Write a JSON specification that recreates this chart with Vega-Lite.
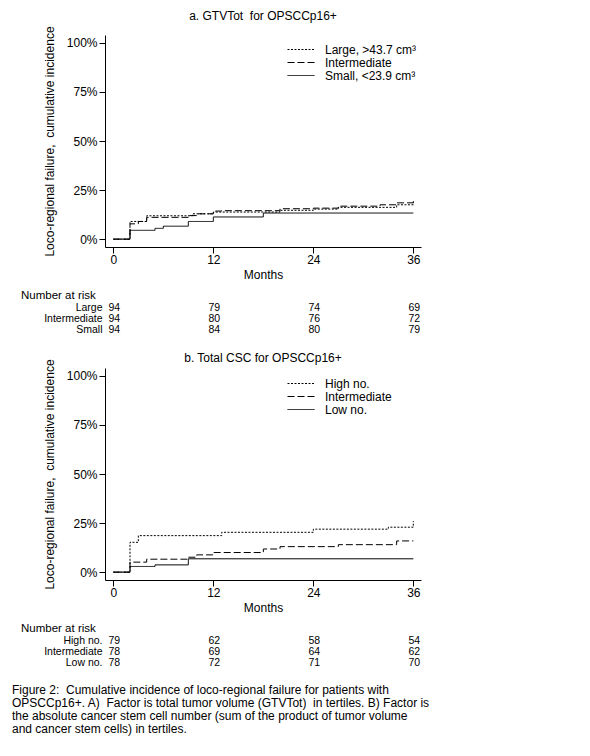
{
  "$schema": "https://vega.github.io/schema/vega-lite/v6.json",
  "background": "white",
  "padding": {"left": 12, "top": 9, "right": 5, "bottom": 5},
  "config": {
    "font": "Liberation Sans",
    "view": {"stroke": null},
    "axis": {"domainColor": "black", "tickColor": "black", "labelColor": "black", "titleColor": "black", "grid": false, "labelFontSize": 12, "titleFontSize": 12, "titleFontWeight": "normal", "tickSize": 6, "domainWidth": 1, "tickWidth": 1},
    "title": {"fontSize": 12, "fontWeight": "normal", "color": "black"},
    "legend": {"labelFontSize": 12, "labelColor": "black", "padding": 0, "rowPadding": 0, "symbolSize": 144, "symbolType": "M -1 0 L 3.5 0", "symbolStrokeWidth": 1, "symbolStrokeColor": "black", "labelOffset": 25, "title": null}
  },
  "datasets": {
    "curves_a": [
      {"group": "Large, >43.7 cm³", "month": 0, "cif": 0},
      {"group": "Large, >43.7 cm³", "month": 2, "cif": 9.0},
      {"group": "Large, >43.7 cm³", "month": 4, "cif": 11.9},
      {"group": "Large, >43.7 cm³", "month": 9.5, "cif": 12.9},
      {"group": "Large, >43.7 cm³", "month": 12, "cif": 13.8},
      {"group": "Large, >43.7 cm³", "month": 20, "cif": 14.7},
      {"group": "Large, >43.7 cm³", "month": 24, "cif": 15.3},
      {"group": "Large, >43.7 cm³", "month": 27, "cif": 16.2},
      {"group": "Large, >43.7 cm³", "month": 34, "cif": 17.5},
      {"group": "Large, >43.7 cm³", "month": 36, "cif": 19.9},
      {"group": "Intermediate", "month": 0, "cif": 0},
      {"group": "Intermediate", "month": 2, "cif": 7.8},
      {"group": "Intermediate", "month": 3, "cif": 9.0},
      {"group": "Intermediate", "month": 4, "cif": 11.1},
      {"group": "Intermediate", "month": 9, "cif": 12.0},
      {"group": "Intermediate", "month": 10, "cif": 12.9},
      {"group": "Intermediate", "month": 12, "cif": 14.3},
      {"group": "Intermediate", "month": 13, "cif": 14.5},
      {"group": "Intermediate", "month": 20, "cif": 15.5},
      {"group": "Intermediate", "month": 24, "cif": 15.8},
      {"group": "Intermediate", "month": 27, "cif": 16.8},
      {"group": "Intermediate", "month": 32, "cif": 17.5},
      {"group": "Intermediate", "month": 34, "cif": 18.5},
      {"group": "Intermediate", "month": 36, "cif": 18.5},
      {"group": "Small, <23.9 cm³", "month": 0, "cif": 0},
      {"group": "Small, <23.9 cm³", "month": 2, "cif": 4.5},
      {"group": "Small, <23.9 cm³", "month": 5, "cif": 5.5},
      {"group": "Small, <23.9 cm³", "month": 6, "cif": 6.6},
      {"group": "Small, <23.9 cm³", "month": 9, "cif": 9.0},
      {"group": "Small, <23.9 cm³", "month": 12, "cif": 11.3},
      {"group": "Small, <23.9 cm³", "month": 18, "cif": 13.3},
      {"group": "Small, <23.9 cm³", "month": 36, "cif": 13.3}
    ],
    "risk_a": [
      {"group": "Large", "month": 0, "n": 94},
      {"group": "Large", "month": 12, "n": 79},
      {"group": "Large", "month": 24, "n": 74},
      {"group": "Large", "month": 36, "n": 69},
      {"group": "Intermediate", "month": 0, "n": 94},
      {"group": "Intermediate", "month": 12, "n": 80},
      {"group": "Intermediate", "month": 24, "n": 76},
      {"group": "Intermediate", "month": 36, "n": 72},
      {"group": "Small", "month": 0, "n": 94},
      {"group": "Small", "month": 12, "n": 84},
      {"group": "Small", "month": 24, "n": 80},
      {"group": "Small", "month": 36, "n": 79}
    ],
    "curves_b": [
      {"group": "High no.", "month": 0, "cif": 0},
      {"group": "High no.", "month": 2, "cif": 15.2},
      {"group": "High no.", "month": 3, "cif": 18.6},
      {"group": "High no.", "month": 13, "cif": 20.3},
      {"group": "High no.", "month": 24, "cif": 21.9},
      {"group": "High no.", "month": 33, "cif": 22.9},
      {"group": "High no.", "month": 36, "cif": 26.0},
      {"group": "Intermediate", "month": 0, "cif": 0},
      {"group": "Intermediate", "month": 2, "cif": 5.1},
      {"group": "Intermediate", "month": 4, "cif": 6.6},
      {"group": "Intermediate", "month": 9, "cif": 7.6},
      {"group": "Intermediate", "month": 10, "cif": 8.8},
      {"group": "Intermediate", "month": 12, "cif": 10.0},
      {"group": "Intermediate", "month": 18, "cif": 11.8},
      {"group": "Intermediate", "month": 20, "cif": 13.0},
      {"group": "Intermediate", "month": 27, "cif": 14.0},
      {"group": "Intermediate", "month": 34, "cif": 15.9},
      {"group": "Intermediate", "month": 36, "cif": 15.9},
      {"group": "Low no.", "month": 0, "cif": 0},
      {"group": "Low no.", "month": 2, "cif": 2.9},
      {"group": "Low no.", "month": 5, "cif": 3.7},
      {"group": "Low no.", "month": 9, "cif": 6.8},
      {"group": "Low no.", "month": 36, "cif": 6.8}
    ],
    "risk_b": [
      {"group": "High no.", "month": 0, "n": 79},
      {"group": "High no.", "month": 12, "n": 62},
      {"group": "High no.", "month": 24, "n": 58},
      {"group": "High no.", "month": 36, "n": 54},
      {"group": "Intermediate", "month": 0, "n": 78},
      {"group": "Intermediate", "month": 12, "n": 69},
      {"group": "Intermediate", "month": 24, "n": 64},
      {"group": "Intermediate", "month": 36, "n": 62},
      {"group": "Low no.", "month": 0, "n": 78},
      {"group": "Low no.", "month": 12, "n": 72},
      {"group": "Low no.", "month": 24, "n": 71},
      {"group": "Low no.", "month": 36, "n": 70}
    ]
  },
  "title": {
    "text": [
      "Figure 2:\u00a0 Cumulative incidence of loco-regional failure for patients with",
      "OPSCCp16+. A)\u00a0 Factor is total tumor volume (GTVTot)\u00a0 in tertiles. B) Factor is",
      "the absolute cancer stem cell number (sum of the product of tumor volume",
      "and cancer stem cells) in tertiles."
    ],
    "orient": "bottom", "anchor": "start", "frame": "bounds", "fontSize": 12, "lineHeight": 13, "offset": 17, "dx": -9
  },
  "spacing": 16,
  "resolve": {"scale": {"strokeDash": "independent"}, "legend": {"strokeDash": "independent"}},
  "vconcat": [
    {
      "spacing": 9,
      "vconcat": [
        {
          "width": 316, "height": 212,
          "title": {"text": "a. GTVTot\u00a0 for OPSCCp16+", "offset": 3},
          "data": {"name": "curves_a"},
          "mark": {"type": "line", "interpolate": "step-after", "color": "black", "strokeWidth": 1},
          "encoding": {
            "x": {"field": "month", "type": "quantitative", "scale": {"domain": [-1, 36.92], "nice": false, "zero": false}, "axis": {"values": [0, 12, 24, 36], "title": "Months", "labelPadding": 1, "titlePadding": 4}},
            "y": {"field": "cif", "type": "quantitative", "scale": {"domain": [-4, 104], "nice": false, "zero": false}, "axis": {"values": [0, 25, 50, 75, 100], "labelExpr": "datum.value + '%'", "title": "Loco-regional failure,\u00a0 cumulative incidence", "labelPadding": 2, "titlePadding": 10}},
            "strokeDash": {"field": "group", "type": "nominal", "scale": {"domain": ["Large, >43.7 cm³", "Intermediate", "Small, <23.9 cm³"], "range": [[2, 1.5], [7, 3], [1, 0]]}, "legend": {"orient": "none", "legendX": 182, "legendY": 8}}
          }
        },
        {
          "width": 316, "height": 33,
          "title": {"text": "Number at risk", "anchor": "start", "frame": "group", "dx": -84, "offset": 1, "fontSize": 11.5},
          "data": {"name": "risk_a"},
          "mark": {"type": "text", "fontSize": 10.5, "color": "black", "dx": 1},
          "encoding": {
            "x": {"field": "month", "type": "quantitative", "scale": {"domain": [-1, 36.92], "nice": false, "zero": false}, "axis": null},
            "y": {"field": "group", "type": "nominal", "sort": ["Large", "Intermediate", "Small"], "scale": {"type": "point", "padding": 0.5}, "axis": {"title": null, "domain": false, "ticks": false, "labelPadding": 3, "labelFontSize": 10.5}},
            "text": {"field": "n", "type": "quantitative"}
          }
        }
      ]
    },
    {
      "spacing": 9,
      "vconcat": [
        {
          "width": 316, "height": 212,
          "title": {"text": "b. Total CSC for OPSCCp16+", "offset": -6},
          "data": {"name": "curves_b"},
          "mark": {"type": "line", "interpolate": "step-after", "color": "black", "strokeWidth": 1},
          "encoding": {
            "x": {"field": "month", "type": "quantitative", "scale": {"domain": [-1, 36.92], "nice": false, "zero": false}, "axis": {"values": [0, 12, 24, 36], "title": "Months", "labelPadding": 1, "titlePadding": 4}},
            "y": {"field": "cif", "type": "quantitative", "scale": {"domain": [-4, 104], "nice": false, "zero": false}, "axis": {"values": [0, 25, 50, 75, 100], "labelExpr": "datum.value + '%'", "title": "Loco-regional failure,\u00a0 cumulative incidence", "labelPadding": 2, "titlePadding": 10}},
            "strokeDash": {"field": "group", "type": "nominal", "scale": {"domain": ["High no.", "Intermediate", "Low no."], "range": [[2, 1.5], [7, 3], [1, 0]]}, "legend": {"orient": "none", "legendX": 182, "legendY": 9}}
          }
        },
        {
          "width": 316, "height": 33,
          "title": {"text": "Number at risk", "anchor": "start", "frame": "group", "dx": -84, "offset": 1, "fontSize": 11.5},
          "data": {"name": "risk_b"},
          "mark": {"type": "text", "fontSize": 10.5, "color": "black", "dx": 1},
          "encoding": {
            "x": {"field": "month", "type": "quantitative", "scale": {"domain": [-1, 36.92], "nice": false, "zero": false}, "axis": null},
            "y": {"field": "group", "type": "nominal", "sort": ["High no.", "Intermediate", "Low no."], "scale": {"type": "point", "padding": 0.5}, "axis": {"title": null, "domain": false, "ticks": false, "labelPadding": 3, "labelFontSize": 10.5}},
            "text": {"field": "n", "type": "quantitative"}
          }
        }
      ]
    }
  ]
}
